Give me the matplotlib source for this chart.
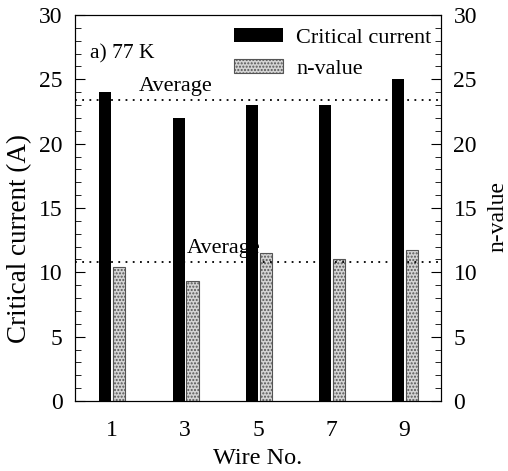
import matplotlib.pyplot as plt
import numpy as np

plt.rcParams['font.family'] = ['Liberation Serif', 'DejaVu Serif']
plt.rcParams['hatch.color'] = '#888888'

wires = [1, 3, 5, 7, 9]
critical_current = [24, 22, 23, 23, 25]
n_value = [10.4, 9.3, 11.5, 11.0, 11.7]
avg_ic = 23.4
avg_n = 10.8

fig = plt.figure(figsize=(5.08, 4.71), dpi=100)
ax = fig.add_axes([75/508, 70/471, 366/508, 386/471])

x = np.array(wires)
ax.bar(x - 0.17, critical_current, width=0.33, color='black', label='Critical current')
ax.bar(x + 0.21, n_value, width=0.33, facecolor='#d4d4d4', edgecolor='#555555',
       linewidth=0.8, hatch='.....', label='n-value')

ax.axhline(avg_ic, color='black', linestyle=(0, (1, 3)), linewidth=1.3)
ax.axhline(avg_n, color='black', linestyle=(0, (1, 3)), linewidth=1.3)
ax.text(2.76, avg_ic + 0.3, 'Average', fontsize=16, ha='center', va='bottom')
ax.text(4.05, avg_n + 0.3, 'Average', fontsize=16, ha='center', va='bottom')
ax.text(0.4, 27.0, 'a) 77 K', fontsize=15.5, ha='left', va='center')

ax.set_xlim(0, 10)
ax.set_ylim(0, 30)
ax.set_xticks(wires)
ax.set_yticks([0, 5, 10, 15, 20, 25, 30])
ax.set_yticks(np.arange(0, 31, 1), minor=True)
ax.tick_params(axis='x', length=0, labelsize=17, pad=14)
ax.tick_params(axis='y', which='major', direction='in', length=7, labelsize=17, pad=9)
ax.tick_params(axis='y', which='minor', direction='in', length=4)
ax.set_xlabel('Wire No.', fontsize=17.5, labelpad=5)
ax.set_ylabel('Critical current (A)', fontsize=19.5)
ax.yaxis.set_label_coords(-0.117, 0.42)

ax2 = ax.twinx()
ax2.set_ylim(0, 30)
ax2.set_yticks([0, 5, 10, 15, 20, 25, 30])
ax2.set_yticks(np.arange(0, 31, 1), minor=True)
ax2.tick_params(axis='y', which='major', direction='in', length=7, labelsize=17, pad=9)
ax2.tick_params(axis='y', which='minor', direction='in', length=4)
ax2.set_ylabel('n-value', fontsize=17, va='bottom')
ax2.yaxis.set_label_coords(1.183, 0.477)

leg = ax.legend(loc='upper right', fontsize=16, frameon=False, handlelength=2.2,
                handleheight=0.6, handletextpad=0.6, borderaxespad=0.2,
                labelspacing=0.5, bbox_to_anchor=(1.01, 1.0))

fig.savefig('out.png', dpi=100)
